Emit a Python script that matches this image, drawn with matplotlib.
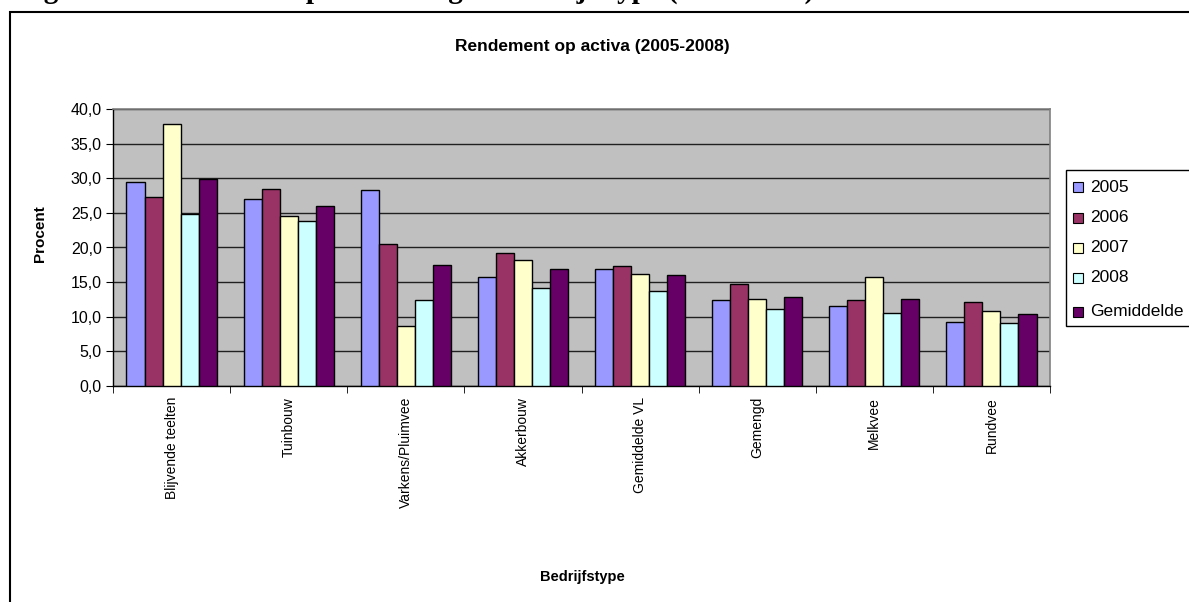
import matplotlib
matplotlib.use("Agg")
import matplotlib.pyplot as plt
import numpy as np
from matplotlib.patches import Rectangle

categories = ["Blijvende teelten", "Tuinbouw", "Varkens/Pluimvee", "Akkerbouw",
              "Gemiddelde VL", "Gemengd", "Melkvee", "Rundvee"]
series_names = ["2005", "2006", "2007", "2008", "Gemiddelde"]
v2005 = [29.4, 27.0, 28.3, 15.8, 16.9, 12.4, 11.6, 9.3]
v2006 = [27.3, 28.5, 20.5, 19.2, 17.4, 14.7, 12.4, 12.1]
v2007 = [37.9, 24.5, 8.6, 18.2, 16.2, 12.6, 15.8, 10.9]
v2008 = [24.9, 23.8, 12.4, 14.1, 13.7, 11.1, 10.6, 9.1]
vgem = [29.9, 26.0, 17.5, 16.9, 16.0, 12.9, 12.6, 10.4]
series_values = [v2005, v2006, v2007, v2008, vgem]
colors = ["#9999FF", "#993366", "#FFFFCC", "#CCFFFF", "#660066"]
yticks = [0, 5, 10, 15, 20, 25, 30, 35, 40]

plt.rcParams['font.family'] = ['Liberation Sans', 'DejaVu Sans']

W, H = 1189, 602
fig = plt.figure(figsize=(W / 100, H / 100), dpi=100)

# caption above the chart, mostly cut off by the top edge (only descenders show)
fig.text(18 / W, 1 + 2 / H, "Figuur 4: Rendement op activa volgens bedrijfstype (2005-2008)",
         family=['Liberation Serif', 'DejaVu Serif'], fontweight='bold', fontsize=21,
         ha='left', va='baseline')

# outer chart border (extends beyond right/bottom)
fig.patches.append(Rectangle((10 / W, -0.05), 1.2, 1 - 12 / H + 0.05,
                             transform=fig.transFigure, fill=False,
                             edgecolor='black', linewidth=1.5))

ax = fig.add_axes([113 / W, 1 - 386 / H, (1050 - 113) / W, (386 - 109) / H])
ax.set_facecolor('#C0C0C0')

n = len(categories)
x = np.arange(n)
bw = 0.154
for i, (name, vals, c) in enumerate(zip(series_names, series_values, colors)):
    ax.bar(x + (i - 2) * bw, vals, width=bw, color=c, edgecolor='black',
           linewidth=1.0, label=name, zorder=3)

ax.set_xlim(-0.5, n - 0.5)
ax.set_ylim(0, 40)
ax.set_yticks(yticks)
ax.set_yticklabels([f"{t:.1f}".replace('.', ',') for t in yticks], fontsize=11.5)
ax.yaxis.grid(True, color='#202020', linewidth=1.0, zorder=1)
ax.set_axisbelow(True)

ax.set_xticks(x)
ax.set_xticklabels(categories, rotation=90, fontsize=10, va='top', ha='center')
ax.tick_params(axis='x', length=0, pad=8)
ax.set_xticks(np.arange(-0.5, n + 0.5, 1), minor=True)
ax.tick_params(axis='x', which='minor', length=5, direction='out', color='black')
ax.tick_params(axis='y', length=5, direction='out', color='black', pad=3)

for s in ['top', 'right']:
    ax.spines[s].set_color('#808080')
    ax.spines[s].set_linewidth(1.2)
for s in ['left', 'bottom']:
    ax.spines[s].set_color('black')
    ax.spines[s].set_linewidth(1.0)

fig.text(40 / W, 1 - 234 / H, "Procent", fontsize=11, fontweight='bold',
         rotation=90, ha='center', va='center')
fig.text(582 / W, 1 - 577 / H, "Bedrijfstype", fontsize=10.5, fontweight='bold',
         ha='center', va='center')
fig.text(592 / W, 1 - 47 / H, "Rendement op activa (2005-2008)", fontsize=12.5,
         fontweight='bold', ha='center', va='center')

# legend box (clipped at right edge)
fig.patches.append(Rectangle((1066 / W, 1 - 326 / H), 0.2, (326 - 170) / H,
                             transform=fig.transFigure, facecolor='white',
                             edgecolor='black', linewidth=1.0))
ys = [187, 218, 248, 278, 312]
for name, c, yy in zip(series_names, colors, ys):
    fig.patches.append(Rectangle((1073 / W, 1 - (yy + 5) / H), 10 / W, 10 / H,
                                 transform=fig.transFigure, facecolor=c,
                                 edgecolor='black', linewidth=0.8))
    fig.text(1090 / W, 1 - yy / H, name, fontsize=12.5, ha='left', va='center')

fig.savefig("out.png", dpi=100)
